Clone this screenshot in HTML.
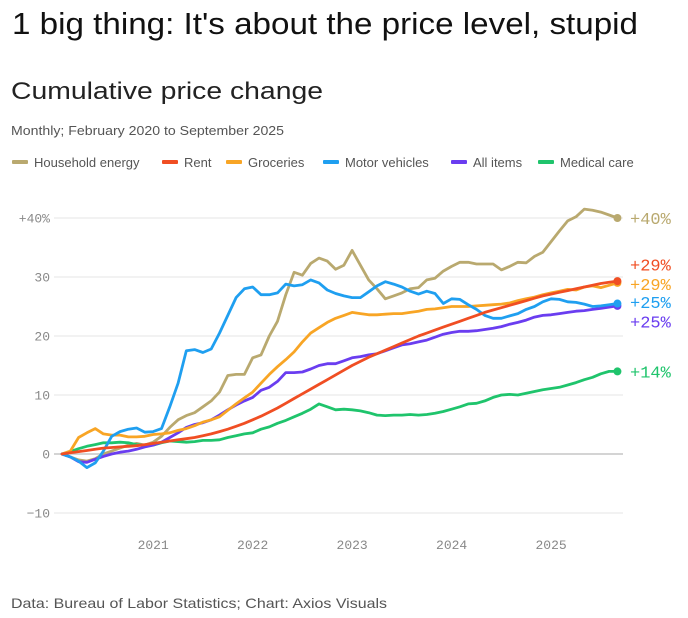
<!DOCTYPE html>
<html><head><meta charset="utf-8"><style>
html,body{margin:0;padding:0;background:#fff;}
svg{display:block;}
</style></head><body>
<svg id="chart" width="688" height="618" xmlns="http://www.w3.org/2000/svg" font-family="Liberation Sans, sans-serif">
<text x="12" y="34" font-size="31" fill="#111" textLength="626" lengthAdjust="spacingAndGlyphs">1 big thing: It's about the price level, stupid</text>
<text x="11" y="99" font-size="24" fill="#222" textLength="312" lengthAdjust="spacingAndGlyphs">Cumulative price change</text>
<text x="11" y="135" font-size="13" fill="#555" textLength="273" lengthAdjust="spacingAndGlyphs">Monthly; February 2020 to September 2025</text>
<g id="legend"></g>
<g id="grid"></g>
<g id="yticks"></g>
<g id="xticks"></g>
<g id="series"></g>
<g id="endlabels"></g>
<text x="11" y="608" font-size="14" fill="#555" textLength="376" lengthAdjust="spacingAndGlyphs">Data: Bureau of Labor Statistics; Chart: Axios Visuals</text>
</svg>
<script>
const yTicks = [-10, 0, 10, 20, 30, 40];
const yTickLabels = ["−10", "0", "10", "20", "30", "+40%"];
const xYears = [2021, 2022, 2023, 2024, 2025];
const seriesNames = ["Household energy", "Rent", "Groceries", "Motor vehicles", "All items", "Medical care"];
const seriesColors = ["#b9a96f", "#f04e23", "#f8a525", "#1f9ff0", "#6a3df0", "#1fc46c"];
const endLabels = ["+40%", "+29%", "+29%", "+25%", "+25%", "+14%"];
const energy = [0,-0.5,-1,-1.2,-0.8,0,0.5,1,1.5,1.8,1.5,2,3,4.5,5.8,6.5,7,8,9,10.5,13.3,13.5,13.5,16.3,16.8,20,22.5,27,30.8,30.3,32.3,33.2,32.7,31.3,32,34.5,32,29.5,28,26.3,26.8,27.3,28,28.2,29.5,29.8,31,31.8,32.5,32.5,32.2,32.2,32.2,31.2,31.8,32.5,32.4,33.5,34.2,36,37.8,39.5,40.2,41.5,41.3,41,40.5,40];
const rent = [0,0.2,0.4,0.6,0.8,1,1.1,1.2,1.3,1.4,1.6,1.8,2,2.2,2.4,2.6,2.8,3.1,3.4,3.8,4.2,4.7,5.2,5.8,6.4,7.1,7.8,8.6,9.4,10.2,11,11.8,12.6,13.4,14.2,15,15.7,16.4,17,17.6,18.2,18.8,19.4,20,20.5,21,21.5,22,22.5,23,23.5,24,24.4,24.8,25.2,25.6,26,26.4,26.8,27.1,27.4,27.7,28,28.3,28.6,28.9,29.1,29.3];
const groceries = [0,0.5,2.8,3.6,4.3,3.4,3.2,3.2,2.9,2.9,3,3.3,3.4,3.6,4,4.3,4.8,5.4,5.8,6.3,7.4,8.5,9.5,10.5,12,13.5,14.8,16,17.3,19,20.5,21.4,22.3,23,23.5,24,23.8,23.6,23.6,23.7,23.8,23.8,24,24.2,24.5,24.6,24.8,25,25,25,25.1,25.2,25.3,25.4,25.6,26,26.3,26.6,27,27.3,27.6,27.9,27.8,28.3,28.5,28.2,28.6,29];
const vehicles = [0,-0.5,-1.2,-2.3,-1.5,0.5,3,3.8,4.2,4.4,3.7,3.8,4.3,8,12,17.5,17.7,17.2,17.8,20.5,23.5,26.5,28,28.3,27,27,27.3,28.8,28.5,28.7,29.5,29,27.8,27.2,26.8,26.5,26.5,27.5,28.5,29.2,28.8,28.3,27.6,27.1,27.6,27.2,25.5,26.3,26.2,25.3,24.5,23.5,23,23,23.4,23.8,24.5,25,25.8,26.3,26.2,25.8,25.7,25.4,25,25.1,25.3,25.5];
const allItems = [0,-0.5,-1.3,-1.4,-0.9,-0.4,0,0.3,0.5,0.8,1.2,1.5,2,2.8,3.6,4.5,5,5.3,5.8,6.6,7.5,8.3,9,9.6,10.8,11.3,12.3,13.8,13.8,13.9,14.4,15,15.3,15.3,15.8,16.3,16.5,16.8,17,17.5,18,18.5,18.7,19,19.3,19.8,20.3,20.6,20.8,20.8,20.9,21.1,21.3,21.6,22,22.3,22.7,23.2,23.5,23.6,23.8,24,24.2,24.3,24.5,24.7,24.9,25.1];
const medical = [0,0.4,0.9,1.3,1.6,1.9,1.9,2,1.9,1.6,1.5,1.5,1.9,2.2,2.1,2,2.1,2.3,2.3,2.4,2.8,3.1,3.4,3.6,4.2,4.6,5.2,5.7,6.3,6.9,7.6,8.5,8,7.5,7.6,7.5,7.3,7,6.6,6.5,6.6,6.6,6.7,6.6,6.7,6.9,7.2,7.6,8,8.5,8.6,9,9.6,10,10.1,10,10.3,10.6,10.9,11.1,11.3,11.7,12.1,12.6,13,13.6,14,14];
const allSeries = [energy, rent, groceries, vehicles, allItems, medical];
const endLabelValues = [40, 32.1, 28.8, 25.8, 22.5, 14];

const NS = "http://www.w3.org/2000/svg";
const yScale = v => 454 - v * 5.9;
const xScale = i => 62 + i * 8.29;
const xYear = yr => xScale((yr - 2020) * 12 - 1);
function mk(tag, attrs, parent) {
  const e = document.createElementNS(NS, tag);
  for (const k in attrs) e.setAttribute(k, attrs[k]);
  parent.appendChild(e);
  return e;
}
const grid = document.getElementById("grid"), yt = document.getElementById("yticks");
yTicks.forEach((t, i) => {
  const l = mk("line", {x1: 54, x2: 623, y1: yScale(t), y2: yScale(t), stroke: t === 0 ? "#bbb" : "#e6e6e6", "stroke-width": t === 0 ? 1.3 : 1}, grid);
  
  
  const tx = mk("text", {x: 50, y: yScale(t) + 4.5, "text-anchor": "end", "font-size": 13, fill: "#888", "font-family": "Liberation Mono, monospace"}, yt);
  tx.textContent = yTickLabels[i];
  
  
});
const xt = document.getElementById("xticks");
xYears.forEach(yr => {
  const tx = mk("text", {x: xYear(yr), y: 549, "text-anchor": "middle", "font-size": 13, fill: "#888", "font-family": "Liberation Mono, monospace"}, xt);
  tx.textContent = yr;
  
  
});
const legendX = [12, 162, 226, 323, 451, 538];
const lg = document.getElementById("legend");
seriesNames.forEach((n, i) => {
  const g = mk("g", {}, lg);
  
  
  mk("rect", {x: legendX[i], y: 160, width: 16, height: 4, rx: 1, fill: seriesColors[i]}, g);
  const tx = mk("text", {x: legendX[i] + 22, y: 167, "font-size": 13, fill: "#555"}, g);
  tx.textContent = n;
});
const sg = document.getElementById("series"), eg = document.getElementById("endlabels");
const order = [0, 5, 4, 2, 3, 1];
order.forEach(si => {
  const d = allSeries[si].map((v, i) => (i ? "L" : "M") + xScale(i).toFixed(1) + "," + yScale(v).toFixed(1)).join("");
  const p = mk("path", {d: d, fill: "none", stroke: seriesColors[si], "stroke-width": 2.8, "stroke-linejoin": "round", "stroke-linecap": "round"}, sg);
  
  
  const arr = allSeries[si], li = arr.length - 1;
  const c = mk("circle", {cx: xScale(li), cy: yScale(arr[li]), r: 4, fill: seriesColors[si]}, sg);
  
  
});
seriesNames.forEach((n, i) => {
  const tx = mk("text", {x: 630, y: yScale(endLabelValues[i]) + 6, "font-size": 17, fill: seriesColors[i], "font-family": "Liberation Mono, monospace"}, eg);
  tx.textContent = endLabels[i];
  
  
});
</script>
</body></html>
